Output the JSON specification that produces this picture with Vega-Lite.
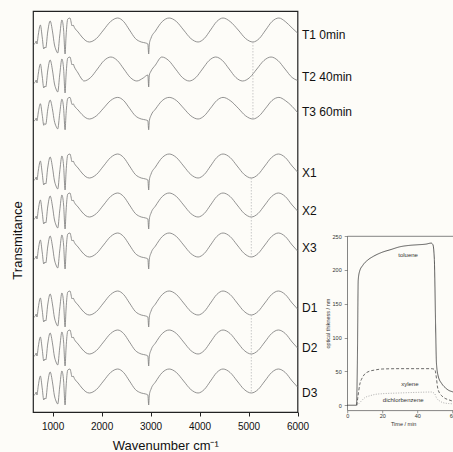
{
"$schema": "https://vega.github.io/schema/vega-lite/v6.json",
"background": "#fdfcf8",
"padding": {"left": 10, "top": 10, "right": 0, "bottom": 0},
"config": {"font": "Liberation Sans", "axis": {"titleFontWeight": "normal", "grid": false}, "view": {"stroke": null}},
"datasets": {
"spec": [
{"w":620,"T1":36.8,"T2":32.9,"T3":29.12,"X1":23.2,"X2":19.3,"X3":15.3,"D1":9.5,"D2":5.6,"D3":1.7},
{"w":650,"T1":36.9,"T2":33.0,"T3":29.21,"X1":23.3,"X2":19.4,"X3":15.4,"D1":9.6,"D2":5.7,"D3":1.8},
{"w":665,"T1":37.1,"T2":33.2,"T3":29.39,"X1":23.5,"X2":19.6,"X3":15.6,"D1":9.8,"D2":5.9,"D3":2.0},
{"w":680,"T1":36.8,"T2":32.9,"T3":29.12,"X1":23.2,"X2":19.3,"X3":15.3,"D1":9.5,"D2":5.6,"D3":1.7},
{"w":710,"T1":37.8,"T2":33.9,"T3":30.02,"X1":24.2,"X2":20.3,"X3":16.3,"D1":10.5,"D2":6.6,"D3":2.7},
{"w":750,"T1":38.7,"T2":34.8,"T3":30.83,"X1":25.1,"X2":21.2,"X3":17.2,"D1":11.4,"D2":7.5,"D3":3.6},
{"w":790,"T1":37.4,"T2":33.5,"T3":29.66,"X1":23.8,"X2":19.9,"X3":15.9,"D1":10.1,"D2":6.2,"D3":2.3},
{"w":820,"T1":36.3,"T2":32.4,"T3":28.67,"X1":22.7,"X2":18.8,"X3":14.8,"D1":9.0,"D2":5.1,"D3":1.2},
{"w":840,"T1":36.5,"T2":32.6,"T3":28.85,"X1":22.9,"X2":19.0,"X3":15.0,"D1":9.2,"D2":5.3,"D3":1.4},
{"w":860,"T1":36.4,"T2":32.5,"T3":28.76,"X1":22.8,"X2":18.9,"X3":14.9,"D1":9.1,"D2":5.2,"D3":1.3},
{"w":900,"T1":38.0,"T2":34.1,"T3":30.2,"X1":24.4,"X2":20.5,"X3":16.5,"D1":10.7,"D2":6.8,"D3":2.9},
{"w":950,"T1":39.1,"T2":35.2,"T3":31.19,"X1":25.5,"X2":21.6,"X3":17.6,"D1":11.8,"D2":7.9,"D3":4.0},
{"w":1000,"T1":38.0,"T2":34.1,"T3":30.2,"X1":24.4,"X2":20.5,"X3":16.5,"D1":10.7,"D2":6.8,"D3":2.9},
{"w":1035,"T1":36.8,"T2":32.9,"T3":29.12,"X1":23.2,"X2":19.3,"X3":15.3,"D1":9.5,"D2":5.6,"D3":1.7},
{"w":1070,"T1":36.2,"T2":32.3,"T3":28.58,"X1":22.6,"X2":18.7,"X3":14.7,"D1":8.9,"D2":5.0,"D3":1.1},
{"w":1105,"T1":35.9,"T2":32.0,"T3":28.31,"X1":22.3,"X2":18.4,"X3":14.4,"D1":8.6,"D2":4.7,"D3":0.8},
{"w":1145,"T1":37.6,"T2":33.7,"T3":29.84,"X1":24.0,"X2":20.1,"X3":16.1,"D1":10.3,"D2":6.4,"D3":2.5},
{"w":1190,"T1":39.2,"T2":35.3,"T3":31.28,"X1":25.6,"X2":21.7,"X3":17.7,"D1":11.9,"D2":8.0,"D3":4.1},
{"w":1225,"T1":38.2,"T2":34.3,"T3":30.38,"X1":24.6,"X2":20.7,"X3":16.7,"D1":10.9,"D2":7.0,"D3":3.1},
{"w":1255,"T1":35.8,"T2":31.9,"T3":28.22,"X1":22.2,"X2":18.3,"X3":14.3,"D1":8.5,"D2":4.6,"D3":0.7},
{"w":1275,"T1":37.6,"T2":33.7,"T3":29.84,"X1":24.0,"X2":20.1,"X3":16.1,"D1":10.3,"D2":6.4,"D3":2.5},
{"w":1310,"T1":39.3,"T2":35.4,"T3":31.37,"X1":25.7,"X2":21.8,"X3":17.8,"D1":12.0,"D2":8.1,"D3":4.2},
{"w":1355,"T1":39.4,"T2":35.5,"T3":31.46,"X1":25.8,"X2":21.9,"X3":17.9,"D1":12.1,"D2":8.2,"D3":4.3},
{"w":1400,"T1":38.6,"T2":34.7,"T3":30.74,"X1":25.0,"X2":21.1,"X3":17.1,"D1":11.3,"D2":7.4,"D3":3.5},
{"w":1420,"T1":38.7,"T2":34.8,"T3":30.83,"X1":25.1,"X2":21.2,"X3":17.2,"D1":11.4,"D2":7.5,"D3":3.6},
{"w":1445,"T1":38.45,"T3":30.61,"X1":24.85,"X2":20.95,"X3":16.95,"D1":11.15,"D2":7.25,"D3":3.35},
{"w":1520,"T1":38.0,"T3":30.2,"X1":24.4,"X2":20.5,"X3":16.5,"D1":10.7,"D2":6.8,"D3":2.9},
{"w":1600,"T1":37.5,"T3":29.75,"X1":23.9,"X2":20.0,"X3":16.0,"D1":10.2,"D2":6.3,"D3":2.4},
{"w":1680,"T1":37.12,"T3":29.41,"X1":23.52,"X2":19.62,"X3":15.62,"D1":9.82,"D2":5.92,"D3":2.02},
{"w":1750,"T1":37.0,"T3":29.3,"X1":23.4,"X2":19.5,"X3":15.5,"D1":9.7,"D2":5.8,"D3":1.9},
{"w":1895,"T1":37.35,"T3":29.62,"X1":23.75,"X2":19.85,"X3":15.85,"D1":10.05,"D2":6.15,"D3":2.25},
{"w":2040,"T1":38.2,"T3":30.38,"X1":24.6,"X2":20.7,"X3":16.7,"D1":10.9,"D2":7.0,"D3":3.1},
{"w":2185,"T1":39.05,"T3":31.15,"X1":25.45,"X2":21.55,"X3":17.55,"D1":11.75,"D2":7.85,"D3":3.95},
{"w":2330,"T1":39.4,"T3":31.46,"X1":25.8,"X2":21.9,"X3":17.9,"D1":12.1,"D2":8.2,"D3":4.3},
{"w":2450,"T1":39.05,"T3":31.15,"X1":25.45,"X2":21.55,"X3":17.55,"D1":11.75,"D2":7.85,"D3":3.95},
{"w":2570,"T1":38.2,"T3":30.38,"X1":24.6,"X2":20.7,"X3":16.7,"D1":10.9,"D2":7.0,"D3":3.1},
{"w":2690,"T1":37.35,"T3":29.62,"X1":23.75,"X2":19.85,"X3":15.85,"D1":10.05,"D2":6.15,"D3":2.25},
{"w":2810,"T1":37.0,"T3":29.3,"X1":23.4,"X2":19.5,"X3":15.5,"D1":9.7,"D2":5.8,"D3":1.9},
{"w":2900,"T1":36.9,"T3":29.21,"X1":23.3,"X2":19.4,"X3":15.4,"D1":9.6,"D2":5.7,"D3":1.8},
{"w":2945,"T1":36.8,"T3":29.12,"X1":23.2,"X2":19.3,"X3":15.3,"D1":9.5,"D2":5.6,"D3":1.7},
{"w":2962,"T1":35.8,"T3":28.22,"X1":22.2,"X2":18.3,"X3":14.3,"D1":8.5,"D2":4.6,"D3":0.7},
{"w":2975,"T1":36.8,"T3":29.12,"X1":23.2,"X2":19.3,"X3":15.3,"D1":9.5,"D2":5.6,"D3":1.7},
{"w":3010,"T1":37.4,"T3":29.66,"X1":23.8,"X2":19.9,"X3":15.9,"D1":10.1,"D2":6.2,"D3":2.3},
{"w":3100,"T1":38.1,"T3":30.29,"X1":24.5,"X2":20.6,"X3":16.6,"D1":10.8,"D2":6.9,"D3":3.0},
{"w":3240,"T1":39.05,"T3":31.15,"X1":25.45,"X2":21.55,"X3":17.55,"D1":11.75,"D2":7.85,"D3":3.95},
{"w":3380,"T1":39.4,"T3":31.46,"X1":25.8,"X2":21.9,"X3":17.9,"D1":12.1,"D2":8.2,"D3":4.3},
{"w":3527,"T1":39.05,"T3":31.15,"X1":25.45,"X2":21.55,"X3":17.55,"D1":11.75,"D2":7.85,"D3":3.95},
{"w":3675,"T1":38.2,"T3":30.38,"X1":24.6,"X2":20.7,"X3":16.7,"D1":10.9,"D2":7.0,"D3":3.1},
{"w":3822,"T1":37.35,"T3":29.62,"X1":23.75,"X2":19.85,"X3":15.85,"D1":10.05,"D2":6.15,"D3":2.25},
{"w":3970,"T1":37.0,"T3":29.3,"X1":23.4,"X2":19.5,"X3":15.5,"D1":9.7,"D2":5.8,"D3":1.9},
{"w":4097,"T1":37.35,"T3":29.62,"X1":23.75,"X2":19.85,"X3":15.85,"D1":10.05,"D2":6.15,"D3":2.25},
{"w":4225,"T1":38.2,"T3":30.38,"X1":24.6,"X2":20.7,"X3":16.7,"D1":10.9,"D2":7.0,"D3":3.1},
{"w":4352,"T1":39.05,"T3":31.15,"X1":25.45,"X2":21.55,"X3":17.55,"D1":11.75,"D2":7.85,"D3":3.95},
{"w":4480,"T1":39.4,"T3":31.46,"X1":25.8,"X2":21.9,"X3":17.9,"D1":12.1,"D2":8.2,"D3":4.3},
{"w":4624,"T1":39.05,"T3":31.15,"X1":25.45,"X2":21.55,"X3":17.55,"D1":11.75,"D2":7.85,"D3":3.95},
{"w":4768,"X1":24.6,"X2":20.7,"X3":16.7,"D1":10.9,"D2":7.0,"D3":3.1},
{"w":4913,"X1":23.75,"X2":19.85,"X3":15.85,"D1":10.05,"D2":6.15,"D3":2.25},
{"w":5057,"X1":23.4,"X2":19.5,"X3":15.5,"D1":9.7,"D2":5.8,"D3":1.9},
{"w":5195,"X1":23.75,"X2":19.85,"X3":15.85,"D1":10.05,"D2":6.15,"D3":2.25},
{"w":5333,"X1":24.6,"X2":20.7,"X3":16.7,"D1":10.9,"D2":7.0,"D3":3.1},
{"w":5472,"X1":25.45,"X2":21.55,"X3":17.55,"D1":11.75,"D2":7.85,"D3":3.95},
{"w":5610,"X1":25.8,"X2":21.9,"X3":17.9,"D1":12.1,"D2":8.2,"D3":4.3},
{"w":4790,"T1":38.2,"T3":30.38},
{"w":4940,"T1":37.35,"T3":29.62},
{"w":5090,"T1":37.0,"T3":29.3},
{"w":5220,"T1":37.35,"T3":29.62},
{"w":5350,"T1":38.2,"T3":30.38},
{"w":5480,"T1":39.05,"T3":31.15},
{"w":5620,"T1":39.4,"T3":31.46},
{"w":5750,"T1":39.05,"T3":31.15,"X1":25.45,"X2":21.55,"X3":17.55,"D1":11.75,"D2":7.85,"D3":3.95},
{"w":5890,"T1":38.4,"T3":30.56,"X1":24.6,"X2":20.7,"X3":16.7,"D1":10.9,"D2":7.0,"D3":3.1},
{"w":6000,"T1":37.9,"T3":29.95,"X1":24.0,"X2":20.1,"X3":16.1,"D1":10.3,"D2":6.4,"D3":2.5},
{"w":1445,"T2":34.5},{"w":1520,"T2":33.9},{"w":1580,"T2":33.4},{"w":1640,"T2":33.1},
{"w":1777,"T2":33.45},{"w":1915,"T2":34.3},{"w":2052,"T2":35.15},{"w":2190,"T2":35.5},
{"w":2322,"T2":35.15},{"w":2455,"T2":34.3},{"w":2587,"T2":33.45},{"w":2720,"T2":33.1},
{"w":2850,"T2":33.4},{"w":2945,"T2":33.7},{"w":2962,"T2":32.5},{"w":2975,"T2":33.7},
{"w":3000,"T2":34.0},{"w":3100,"T2":34.7},{"w":3230,"T2":35.5},{"w":3370,"T2":35.15},
{"w":3510,"T2":34.3},{"w":3650,"T2":33.45},{"w":3790,"T2":33.1},{"w":3925,"T2":33.45},
{"w":4060,"T2":34.3},{"w":4195,"T2":35.15},{"w":4330,"T2":35.5},{"w":4467,"T2":35.15},
{"w":4605,"T2":34.3},{"w":4742,"T2":33.45},{"w":4880,"T2":33.1},{"w":5025,"T2":33.45},
{"w":5170,"T2":34.3},{"w":5315,"T2":35.15},{"w":5460,"T2":35.5},{"w":5600,"T2":35.15},
{"w":5745,"T2":34.3},{"w":5890,"T2":33.45},{"w":6000,"T2":33.15}
],
"guides": [
{"w":5090,"y1":37.0,"y2":29.3},
{"w":5057,"y1":23.4,"y2":15.5},
{"w":5057,"y1":9.7,"y2":1.9}
],
"lab": [
{"w":6000,"v":37.7,"t":"T1 0min"},
{"w":6000,"v":33.5,"t":"T2 40min"},
{"w":6000,"v":30.0,"t":"T3 60min"},
{"w":6000,"v":23.95,"t":"X1"},
{"w":6000,"v":20.1,"t":"X2"},
{"w":6000,"v":16.4,"t":"X3"},
{"w":6000,"v":10.45,"t":"D1"},
{"w":6000,"v":6.4,"t":"D2"},
{"w":6000,"v":1.93,"t":"D3"}
],
"kin": [
{"s":"toluene","t":0,"v":0},{"s":"toluene","t":5.3,"v":0},{"s":"toluene","t":5.8,"v":60},{"s":"toluene","t":6.3,"v":185},
{"s":"toluene","t":7,"v":197},{"s":"toluene","t":9,"v":207},{"s":"toluene","t":12,"v":215},{"s":"toluene","t":15,"v":220},
{"s":"toluene","t":20,"v":226},{"s":"toluene","t":25,"v":230},{"s":"toluene","t":30,"v":234},{"s":"toluene","t":35,"v":236},
{"s":"toluene","t":40,"v":237},{"s":"toluene","t":45,"v":238},{"s":"toluene","t":48,"v":239.5},{"s":"toluene","t":49,"v":237},
{"s":"toluene","t":49.8,"v":215},{"s":"toluene","t":50.5,"v":120},{"s":"toluene","t":51,"v":62},{"s":"toluene","t":52,"v":43},
{"s":"toluene","t":54,"v":32},{"s":"toluene","t":56,"v":26},{"s":"toluene","t":58,"v":22},{"s":"toluene","t":60,"v":20},
{"s":"toluene","t":62,"v":18},{"s":"toluene","t":64,"v":17},
{"s":"xylene","t":5.5,"v":0},{"s":"xylene","t":6,"v":10},{"s":"xylene","t":7.2,"v":31},{"s":"xylene","t":8.5,"v":40},
{"s":"xylene","t":10,"v":46},{"s":"xylene","t":12.5,"v":50},{"s":"xylene","t":15.8,"v":52},{"s":"xylene","t":20,"v":53.5},
{"s":"xylene","t":30,"v":54},{"s":"xylene","t":40,"v":54},{"s":"xylene","t":48,"v":54},{"s":"xylene","t":50,"v":53},
{"s":"xylene","t":51,"v":40},{"s":"xylene","t":51.6,"v":27},{"s":"xylene","t":53,"v":17},{"s":"xylene","t":54,"v":14},
{"s":"xylene","t":56,"v":10},{"s":"xylene","t":58,"v":8},{"s":"xylene","t":61,"v":5.5},{"s":"xylene","t":64,"v":4},
{"s":"dichlorbenzene","t":5.5,"v":0},{"s":"dichlorbenzene","t":6.5,"v":2},{"s":"dichlorbenzene","t":8,"v":6},{"s":"dichlorbenzene","t":10,"v":11},
{"s":"dichlorbenzene","t":13,"v":14},{"s":"dichlorbenzene","t":16,"v":16},{"s":"dichlorbenzene","t":20,"v":17},{"s":"dichlorbenzene","t":29,"v":18},
{"s":"dichlorbenzene","t":40,"v":19},{"s":"dichlorbenzene","t":48,"v":19.5},{"s":"dichlorbenzene","t":50,"v":17},{"s":"dichlorbenzene","t":51,"v":11},
{"s":"dichlorbenzene","t":53,"v":6},{"s":"dichlorbenzene","t":55,"v":3.6},{"s":"dichlorbenzene","t":58,"v":2.5},{"s":"dichlorbenzene","t":61,"v":2},
{"s":"dichlorbenzene","t":64,"v":1.8}
],
"klab": [
{"s":"toluene","t":34.8,"v":222},
{"s":"xylene","t":35.8,"v":31},
{"s":"dichlorbenzene","t":32,"v":7.4}
]
},
"hconcat": [
{
"width": 264.5, "height": 401,
"view": {"stroke": "#222", "strokeWidth": 1.2},
"layer": [
{"data": {"name": "spec"},
 "transform": [{"fold": ["T1","T2","T3","X1","X2","X3","D1","D2","D3"], "as": ["s","v"]}, {"filter": "isValid(datum.v)"}],
 "mark": {"type": "line", "interpolate": "monotone", "color": "#777", "strokeWidth": 0.8},
 "encoding": {
  "x": {"field": "w", "type": "quantitative", "scale": {"domain": [600, 6000], "nice": false, "zero": false},
   "axis": {"values": [1000,1500,2000,2500,3000,3500,4000,4500,5000,5500,6000], "format": "d",
    "labelExpr": "datum.value % 1000 === 0 ? datum.label : ''",
    "tickSize": {"condition": {"test": "datum.value % 1000 === 0", "value": 4}, "value": 2.5},
    "labelFlush": false, "labelOverlap": false, "labelFontSize": 10, "labelPadding": 5.5, "labelColor": "#111", "tickColor": "#222", "tickWidth": 1,
    "domain": false, "title": "Wavenumber cm⁻¹", "titleFontSize": 13, "titleColor": "#111", "titlePadding": 8}},
  "y": {"field": "v", "type": "quantitative", "scale": {"domain": [0, 40.1], "nice": false, "zero": false},
   "axis": {"labels": false, "ticks": false, "domain": false, "title": "Transmitance", "titleFontSize": 13, "titleColor": "#111", "titleX": -8.5, "titleY": 229}},
  "detail": {"field": "s"}
 }},
{"data": {"name": "guides"},
 "mark": {"type": "rule", "color": "#bbb", "strokeDash": [1.5, 1.5], "strokeWidth": 0.8},
 "encoding": {"x": {"field": "w", "type": "quantitative"}, "y": {"field": "y1", "type": "quantitative"}, "y2": {"field": "y2"}}},
{"data": {"name": "lab"},
 "mark": {"type": "text", "align": "left", "baseline": "middle", "dx": 4.5, "fontSize": 12, "color": "#111"},
 "encoding": {"x": {"field": "w", "type": "quantitative"}, "y": {"field": "v", "type": "quantitative"}, "text": {"field": "t"}}}
]
},
{
"vconcat": [
{"width": 112, "height": 225, "data": {"values": []}, "mark": "text", "encoding": {}},
{
"width": 112, "height": 174.3,
"view": {"stroke": "#666", "strokeWidth": 0.8},
"layer": [
{"data": {"name": "kin"},
 "mark": {"type": "line", "interpolate": "monotone", "strokeWidth": 0.8},
 "encoding": {
  "x": {"field": "t", "type": "quantitative", "scale": {"domain": [0, 64], "nice": false},
   "axis": {"tickCount": 4, "tickSize": 2.5,
    "labelFlush": false, "labelOverlap": false, "labelFontSize": 5.5, "labelPadding": 0.5, "labelColor": "#333", "tickColor": "#555", "tickWidth": 0.6,
    "domain": false, "title": "Time / min", "titleFontSize": 5.5, "titleColor": "#333", "titlePadding": 3}},
  "y": {"field": "v", "type": "quantitative", "scale": {"domain": [-7.5, 250], "nice": false, "zero": false},
   "axis": {"tickCount": 5, "labelOverlap": false, "tickSize": 3, "labelFontSize": 5.5, "labelPadding": 3, "labelColor": "#333", "tickColor": "#555", "tickWidth": 0.6,
    "domain": false, "title": "optical thikness / nm", "titleFontSize": 5.5, "titleColor": "#333", "titlePadding": 2}},
  "color": {"field": "s", "type": "nominal", "scale": {"domain": ["toluene","xylene","dichlorbenzene"], "range": ["#333","#444","#999"]}, "legend": null},
  "strokeDash": {"field": "s", "type": "nominal", "scale": {"domain": ["toluene","xylene","dichlorbenzene"], "range": [[1,0],[3,2],[1,1.5]]}, "legend": null}
 }},
{"data": {"name": "klab"},
 "mark": {"type": "text", "fontSize": 6, "color": "#333"},
 "encoding": {"x": {"field": "t", "type": "quantitative"}, "y": {"field": "v", "type": "quantitative"}, "text": {"field": "s"}}}
]
}
],
"spacing": 0,
"bounds": "flush"
}
],
"spacing": 49.2,
"bounds": "flush"
}
